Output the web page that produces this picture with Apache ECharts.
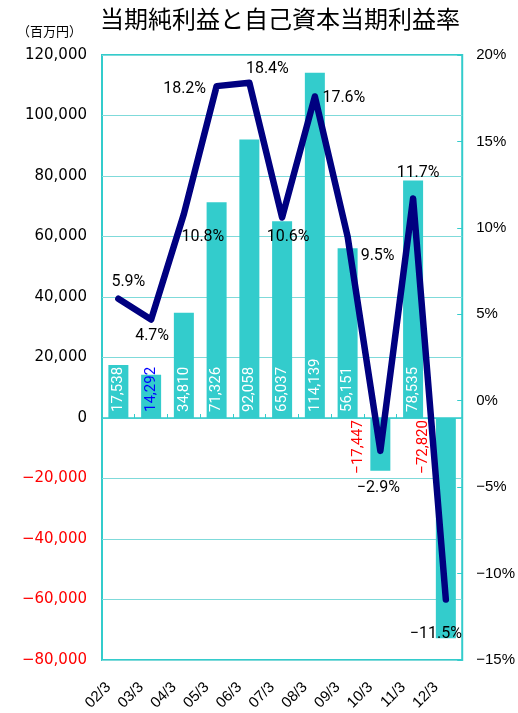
<!DOCTYPE html>
<html><head><meta charset="utf-8">
<script src="https://cdn.jsdelivr.net/npm/echarts@6/dist/echarts.min.js"></script>
<style>html,body{margin:0;padding:0;background:#fff}#c{width:518px;height:713px}</style>
</head><body><div id="c"></div>
<script>
// ---- data ----
const categories = ['02/3','03/3','04/3','05/3','06/3','07/3','08/3','09/3','10/3','11/3','12/3'];
const netIncome = [17538, 14292, 34810, 71326, 92058, 65037, 114139, 56151, -17447, 78535, -72820];
const roe = [5.9, 4.7, 10.8, 18.2, 18.4, 10.6, 17.6, 9.5, -2.9, 11.7, -11.5];
const leftAxisRange = [-80000, 120000, 20000];
const rightAxisRange = [-15, 20, 5];
const titleText = '当期純利益と自己資本当期利益率';
const unitText = '（百万円）';

// ---- styling (not data) ----
const roeLabelOffsets = [[10,-17],[1,17],[19,23],[-32,3],[18,-14],[6,20],[29,2],[30,19],[-2,37],[5,-25],[-10,34]];
const blueLabelIndex = 1;
const CYAN = '#33CCCC';
const NARROW = 'Roboto,"Liberation Sans",sans-serif';
const MINUS = '\u2212';

function fmtNum(v){ const s = Math.abs(v).toLocaleString('en-US'); return v < 0 ? MINUS + s : s; }
function fmtPct(v){ return (v < 0 ? MINUS + Math.abs(v) : String(v)) + '%'; }

const barData = netIncome.map((v, i) => {
  if (v < 0) {
    return { value: v, label: {
      position: [-5, 2], rotate: 90, align: 'right', verticalAlign: 'bottom',
      color: '#FF0000' } };
  }
  return { value: v, label: { color: i === blueLabelIndex ? '#0000FF' : '#FFFFFF' } };
});

const lineData = roe.map((v, i) => ({
  value: v,
  label: { offset: roeLabelOffsets[i] }
}));

const chart = echarts.init(document.getElementById('c'), null, {renderer: 'canvas'});
chart.setOption({
  animation: false,
  backgroundColor: '#FFFFFF',
  graphic: [
    { type: 'text', left: 100, top: 7,
      style: { text: titleText, font: '24px "Noto Sans CJK JP"', fill: '#000' } },
    { type: 'text', left: 17, top: 25,
      style: { text: unitText, font: '13px "Noto Sans CJK JP"', fill: '#000' } }
  ],
  grid: { left: 102, right: 55, top: 55, bottom: 52, show: true,
          borderColor: CYAN, borderWidth: 2, backgroundColor: 'transparent' },
  xAxis: [
    { type: 'category', data: categories, gridIndex: 0, position: 'bottom',
      axisLine: { show: true, onZero: true, lineStyle: { color: CYAN, width: 1.5 } },
      axisTick: { show: true, inside: true, length: 4, lineStyle: { color: CYAN } },
      axisLabel: { show: false }, splitLine: { show: false } },
    { type: 'category', data: categories, gridIndex: 0, position: 'bottom',
      axisLine: { show: false, onZero: false }, axisTick: { show: false },
      axisLabel: { show: true, rotate: 45, margin: 15, padding: [0, 14, 0, 0], fontSize: 15,
        fontFamily: '"Liberation Sans",Arial,sans-serif', color: '#000' },
      splitLine: { show: false } }
  ],
  yAxis: [
    { type: 'value', min: leftAxisRange[0], max: leftAxisRange[1], interval: leftAxisRange[2],
      axisLine: { show: false }, axisTick: { show: false },
      splitLine: { show: true, lineStyle: { color: '#7FDADA', width: 1 } },
      axisLabel: { margin: 15, fontSize: 15, fontFamily: '"DejaVu Sans",sans-serif',
        formatter: fmtNum, color: (v) => (Number(v) < 0 ? '#FF0000' : '#000000') } },
    { type: 'value', min: rightAxisRange[0], max: rightAxisRange[1], interval: rightAxisRange[2],
      position: 'right',
      axisLine: { show: false }, splitLine: { show: false },
      axisTick: { show: true, inside: true, length: 5, lineStyle: { color: CYAN } },
      axisLabel: { margin: 14, fontSize: 15, fontFamily: '"Liberation Sans",Arial,sans-serif',
        color: '#000', formatter: fmtPct } }
  ],
  series: [
    { type: 'bar', xAxisIndex: 0, yAxisIndex: 0, data: barData, barWidth: 20, z: 2,
      itemStyle: { color: CYAN },
      label: { show: true, position: 'insideBottom', distance: 6, rotate: 90,
        align: 'left', verticalAlign: 'middle', fontSize: 15, fontFamily: NARROW,
        textBorderWidth: 0, overflow: 'none', formatter: (p) => fmtNum(p.value) } },
    { type: 'line', xAxisIndex: 0, yAxisIndex: 1, data: lineData, z: 5,
      symbol: 'circle', symbolSize: 2, showSymbol: true,
      itemStyle: { color: '#000080' },
      lineStyle: { color: '#000080', width: 6.5, cap: 'round', join: 'round' },
      label: { show: true, position: 'inside', fontSize: 16, fontFamily: NARROW,
        color: '#000', textBorderWidth: 0, formatter: (p) => fmtPct(p.value) } }
  ]
});
</script></body></html>
